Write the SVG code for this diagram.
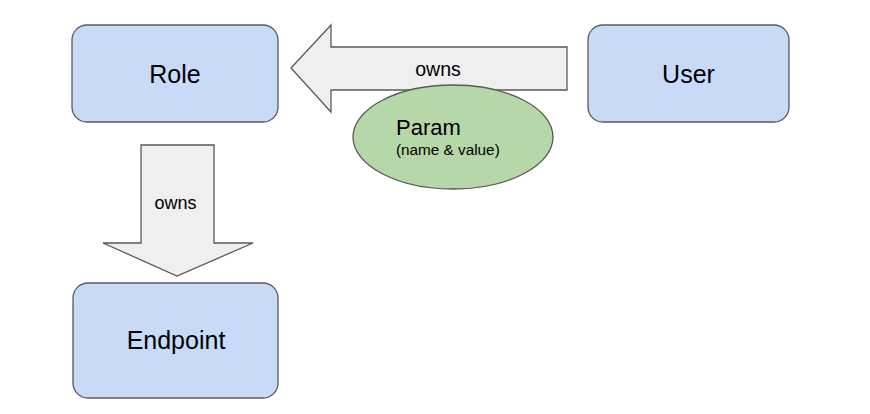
<svg xmlns="http://www.w3.org/2000/svg" width="870" height="414" viewBox="0 0 870 414">
<style>
.box{fill:#c9daf8;stroke:#595959;stroke-width:1.3}
.arr{fill:#efefef;stroke:#595959;stroke-width:1.3}
.t{font-family:"Liberation Sans",Arial,sans-serif;fill:#000}
.n{font-size:25px;text-anchor:middle}
</style>
<rect width="870" height="414" fill="#fff"/>
<g id="connectors">
<path class="arr" d="M567,47 L331,47 L331,25 L291,68 L331,112 L331,90 L567,90 Z"/>
<text class="t" x="438" y="76" font-size="19.5" text-anchor="middle">owns</text>
<path class="arr" d="M141,145 L214,145 L214,243 L253,243 L177,276 L103,243 L141,243 Z"/>
<text class="t" x="175.5" y="209" font-size="18" text-anchor="middle">owns</text>
</g>
<g id="param">
<ellipse cx="453" cy="137" rx="100" ry="52" fill="#b6d7a8" stroke="#595959" stroke-width="1.3"/>
<text class="t" x="396" y="135" font-size="22">Param</text>
<text class="t" x="396" y="155" font-size="15.3">(name &amp; value)</text>
</g>
<g id="role">
<rect class="box" x="72" y="25" width="206" height="97" rx="15"/>
<text class="t n" x="175" y="83">Role</text>
</g>
<g id="user">
<rect class="box" x="588" y="25" width="201" height="97" rx="15"/>
<text class="t n" x="688.5" y="83">User</text>
</g>
<g id="endpoint">
<rect class="box" x="73" y="283" width="205" height="115" rx="15"/>
<text class="t n" x="176" y="349">Endpoint</text>
</g>
</svg>
